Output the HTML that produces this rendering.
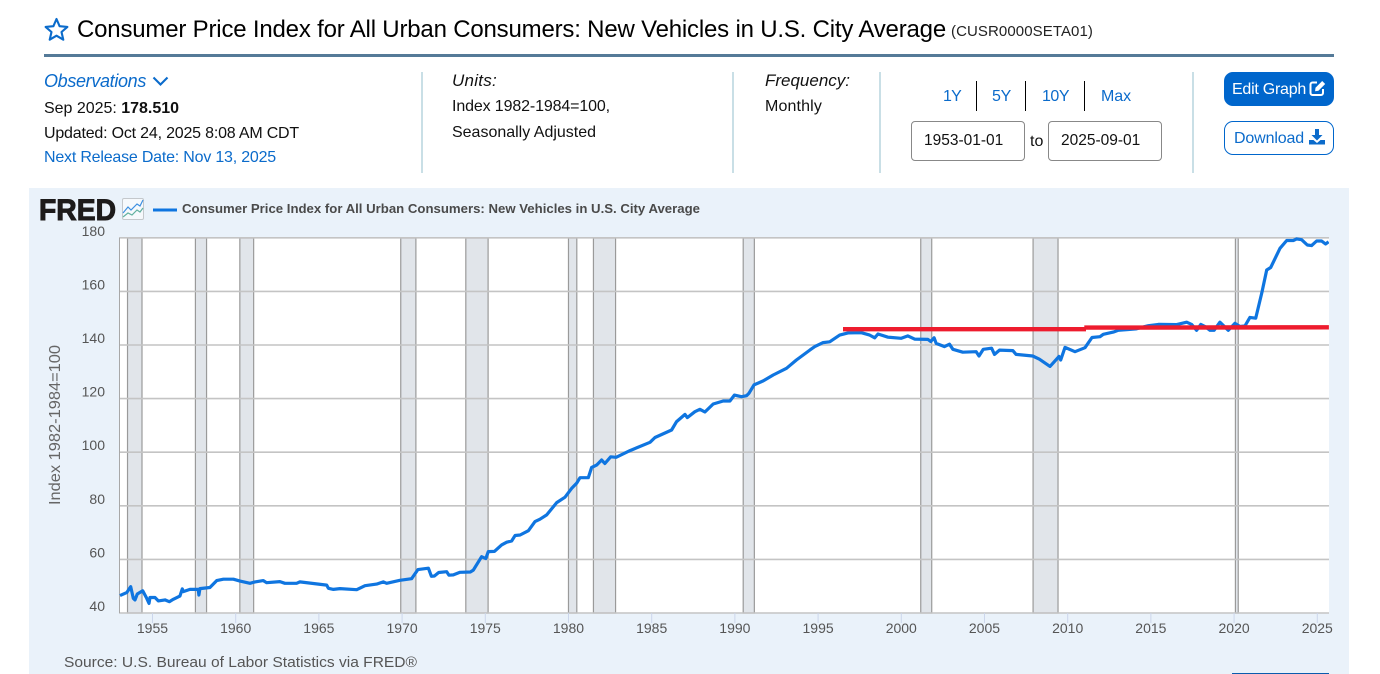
<!DOCTYPE html>
<html lang="en">
<head>
<meta charset="utf-8">
<title>Consumer Price Index for All Urban Consumers: New Vehicles in U.S. City Average</title>
<style>
html,body{margin:0;padding:0;background:#fff;width:1380px;height:674px;overflow:hidden;font-family:"Liberation Sans",Arial,sans-serif;color:#111}
.t{position:absolute;white-space:nowrap;line-height:20px;height:20px;font-size:16px}
.blue{color:#0b6bcb;text-decoration:none}
.div{position:absolute;width:2px;top:72px;height:101px;background:#c9dfe6}
.sep{position:absolute;width:1px;top:81px;height:30px;background:#000}
input{position:absolute;box-sizing:border-box;height:40px;width:114px;top:121px;border:1px solid #888;border-radius:4px;font:15.500px "Liberation Sans",Arial,sans-serif;padding:0 0 0 12px;color:#111;background:#fff;margin:0;outline:none}
.btn{position:absolute;left:1224px;width:110px;height:34px;box-sizing:border-box;border-radius:9px;border:1px solid #0066cc}
#panel{position:absolute;left:29px;top:188px;width:1320px;height:486px;background:#eaf2fa}
#chart{position:absolute;left:0;top:0;width:1380px;height:674px}
</style>
</head>
<body>

<svg style="position:absolute;left:44px;top:17px" width="25" height="25" viewBox="0 0 25 25"><polygon points="12.5,2 15.6,9.2 23.4,9.9 17.5,15 19.3,22.7 12.5,18.7 5.7,22.7 7.5,15 1.6,9.9 9.4,9.2" fill="none" stroke="#0b6bcb" stroke-width="2.1" stroke-linejoin="round"/></svg>
<span class="t" data-fit="869" style="left:77px;top:16px;font-size:24px;line-height:28px;height:28px;color:#000">Consumer Price Index for All Urban Consumers: New Vehicles in U.S. City Average</span>
<span class="t" data-fit="142" style="left:951px;top:22px;font-size:15px;color:#222">(CUSR0000SETA01)</span>
<div style="position:absolute;left:44px;top:54px;width:1290px;height:3px;background:#557a98"></div>

<span class="t blue" data-fit="102" style="left:44px;top:71px;font-size:18px;font-style:italic">Observations</span>
<svg style="position:absolute;left:151px;top:74px" width="19" height="14" viewBox="0 0 19 14"><polyline points="2.5,3.5 9.5,10.5 16.5,3.5" fill="none" stroke="#0b6bcb" stroke-width="2.1"/></svg>
<span class="t" data-fit="135" style="left:44px;top:99px">Sep 2025: <b>178.510</b></span>
<span class="t" data-fit="255" style="left:44px;top:124px">Updated: Oct 24, 2025 8:08 AM CDT</span>
<a class="t blue" data-fit="232" style="left:44px;top:148px">Next Release Date: Nov 13, 2025</a>
<div class="div" style="left:421px"></div>

<span class="t" data-fit="45" style="left:452px;top:71px;font-style:italic;font-size:17px">Units:</span>
<span class="t" data-fit="158" style="left:452px;top:97px">Index 1982-1984=100,</span>
<span class="t" data-fit="144" style="left:452px;top:123px">Seasonally Adjusted</span>
<div class="div" style="left:732px"></div>

<span class="t" data-fit="85" style="left:765px;top:71px;font-style:italic;font-size:17px">Frequency:</span>
<span class="t" data-fit="57" style="left:765px;top:97px">Monthly</span>
<div class="div" style="left:879px"></div>

<a class="t blue" data-fit="18" style="left:943px;top:87px">1Y</a>
<div class="sep" style="left:976px"></div>
<a class="t blue" data-fit="19" style="left:992px;top:87px">5Y</a>
<div class="sep" style="left:1025px"></div>
<a class="t blue" data-fit="27" style="left:1042px;top:87px">10Y</a>
<div class="sep" style="left:1084px"></div>
<a class="t blue" data-fit="30" style="left:1101px;top:87px">Max</a>

<input style="left:911px" value="1953-01-01">
<span class="t" style="left:1030px;top:132px">to</span>
<input style="left:1048px" value="2025-09-01">
<div class="div" style="left:1192px"></div>

<div class="btn" style="top:72px;background:#0066cc"></div>
<span class="t" data-fit="74" style="left:1232px;top:80px;color:#fff">Edit Graph</span>
<svg style="position:absolute;left:1309px;top:79px" width="18" height="18" viewBox="0 0 18 18"><path d="M8 3.5H3.5a2 2 0 0 0-2 2v8.5a2 2 0 0 0 2 2H12a2 2 0 0 0 2-2V10" fill="none" stroke="#fff" stroke-width="2"/><path d="M6.5 8.8 13.2 2l3 3-6.8 6.8-3.3.4z" fill="#fff"/></svg>

<div class="btn" style="top:121px;background:#fff"></div>
<span class="t blue" data-fit="70" style="left:1234px;top:129px">Download</span>
<svg style="position:absolute;left:1308px;top:128px" width="18" height="18" viewBox="0 0 18 18"><path d="M7 1h4v6h3.5L9 12.5 3.500 7H7z" fill="#0b6bcb"/><path d="M1 12h4.500L9 15l3.500-3H17v4.500H1z" fill="#0b6bcb"/></svg>

<div id="panel"></div>

<svg id="chart" viewBox="0 0 1380 674" xmlns="http://www.w3.org/2000/svg" font-family="'Liberation Sans',Arial,sans-serif">
  <text x="39" y="220" font-size="30" font-weight="700" fill="#1d1b1b" stroke="#1d1b1b" stroke-width="1" textLength="77" lengthAdjust="spacingAndGlyphs">FRED</text>
  <g>
    <rect x="122.500" y="198.500" width="21" height="21" rx="1.500" fill="#f6f9fc" stroke="#c4c8cc"/>
    <polyline points="123,213 128,207 131,210 137,204 140,206 143,200" fill="none" stroke="#3d8fe0" stroke-width="1.200"/>
    <polyline points="123,217 128,213 132,215 137,210 140,212 143,208" fill="none" stroke="#62b0a0" stroke-width="1.200"/>
  </g>
  <line x1="153" y1="210" x2="177" y2="210" stroke="#0f75e0" stroke-width="3"/>
  <text x="182" y="213" font-size="12.500" font-weight="700" fill="#4a4a4a" textLength="518" lengthAdjust="spacingAndGlyphs">Consumer Price Index for All Urban Consumers: New Vehicles in U.S. City Average</text>
  <rect x="119" y="238" width="1210" height="375" fill="#fff"/>
  <g id="bands"></g>
  <g id="grid"></g>
  <g id="xaxis"></g>
  <g id="yaxis"></g>
  <text transform="translate(60,425) rotate(-90)" text-anchor="middle" font-size="15.500" fill="#666" textLength="160" lengthAdjust="spacingAndGlyphs">Index 1982-1984=100</text>
  <clipPath id="plotclip"><rect x="119" y="236" width="1210" height="378"/></clipPath>
  <g id="marks" clip-path="url(#plotclip)"></g>
  <text x="64" y="667" font-size="15" fill="#555" textLength="353" lengthAdjust="spacingAndGlyphs">Source: U.S. Bureau of Labor Statistics via FRED®</text>
  <rect x="1232" y="673" width="97" height="1" fill="#0b5cad"/>
</svg>

<script>
var years = [1953.05,1953.45,1953.69,1953.85,1953.95,1954.09,1954.41,1954.65,1954.79,1954.85,1955.15,1955.35,1955.75,1956.01,1956.25,1956.65,1956.79,1956.85,1957.25,1957.75,1957.79,1957.85,1958.45,1958.86,1959.26,1959.86,1960.26,1960.86,1961.16,1961.66,1961.86,1962.66,1962.96,1963.66,1963.86,1965.47,1965.57,1965.87,1966.27,1967.27,1967.77,1968.47,1968.87,1969.07,1969.87,1970.57,1970.95,1971.58,1971.76,1971.94,1972.2,1972.68,1972.82,1973.08,1973.48,1974.1,1974.28,1974.78,1975.03,1975.18,1975.55,1975.98,1976.29,1976.59,1976.79,1977.09,1977.59,1977.99,1978.29,1978.69,1979.29,1979.79,1980.19,1980.49,1980.69,1981.19,1981.39,1981.69,1981.99,1982.19,1982.54,1982.86,1983.7,1984.9,1985.2,1986.2,1986.5,1987.0,1987.14,1987.6,1987.9,1988.2,1988.7,1989.3,1989.7,1989.97,1990.4,1990.7,1990.85,1991.15,1991.7,1992.3,1993.1,1993.7,1994.5,1994.8,1995.3,1995.7,1996.3,1996.8,1997.6,1998.1,1998.4,1998.6,1999.2,2000.0,2000.4,2000.8,2001.6,2001.77,2001.97,2002.1,2002.6,2002.9,2003.1,2003.7,2004.5,2004.67,2004.93,2005.43,2005.6,2005.9,2006.7,2006.9,2007.9,2008.3,2008.94,2009.48,2009.58,2009.84,2010.44,2011.04,2011.46,2011.94,2012.14,2012.74,2013.04,2013.54,2014.1,2014.85,2015.45,2016.55,2017.15,2017.45,2017.75,2018.0,2018.25,2018.55,2018.8,2019.15,2019.65,2020.05,2020.35,2020.65,2020.95,2021.3,2021.66,2021.96,2022.2,2022.76,2023.16,2023.56,2023.76,2024.06,2024.4,2024.66,2024.96,2025.26,2025.5,2025.68];
var values = [46.5,47.6,49.8,45.5,44.9,47.1,48.3,45.5,43.6,45.8,45.8,44.5,44.9,44.2,45.1,46.3,49.0,48.0,48.8,48.8,46.7,49.1,49.5,52.1,52.6,52.6,51.9,51.1,51.6,52.1,51.3,51.7,51.1,51.1,51.6,50.4,49.2,48.8,49.1,48.7,50.2,50.8,51.6,51.1,52.2,52.8,56.2,56.7,53.7,53.8,55.1,55.4,54.1,54.2,55.2,55.3,56.0,61.0,60.3,62.9,63.0,65.4,66.4,66.9,68.9,69.1,70.7,74.1,75.0,76.6,81.2,83.2,86.5,88.4,90.5,90.5,94.3,95.2,97.1,95.8,98.3,98.1,100.6,103.7,105.5,108.3,111.4,114.1,112.9,115.1,116.0,115.0,118.0,119.1,119.1,121.3,120.7,121.1,122.0,125.1,126.6,128.8,131.3,134.4,138.1,139.4,140.9,141.2,143.7,144.5,144.6,143.7,142.7,144.1,142.9,142.5,143.4,142.2,142.1,141.3,142.7,140.6,139.4,140.3,138.4,137.3,137.5,135.9,138.4,138.8,136.5,138.1,137.9,136.5,135.9,134.7,132.0,135.7,134.4,139.1,137.5,139.0,142.8,143.1,144.0,144.8,145.5,145.7,146.0,147.2,147.7,147.6,148.5,147.7,145.5,147.7,146.9,145.5,145.5,148.5,145.5,148.1,146.9,147.1,150.3,150.0,159.3,168.0,168.9,176.1,179.0,179.0,179.6,179.3,177.3,177.1,178.8,178.8,177.7,178.5];
var recessionStarts = [1953.5,1957.58,1960.25,1969.92,1973.83,1980.0,1981.5,1990.5,2001.17,2007.92,2020.08];
var recessionEnds = [1954.37,1958.25,1961.08,1970.83,1975.17,1980.5,1982.83,1991.17,2001.83,2009.42,2020.25];
var yTickLabels = [40,60,80,100,120,140,160,180];
var xTickLabels = [1955,1960,1965,1970,1975,1980,1985,1990,1995,2000,2005,2010,2015,2020,2025];
var trendYearsA = [1996.5,2011.1];
var trendValuesA = [145.9,145.9];
var trendYearsB = [2011.0,2025.7];
var trendValuesB = [146.5,146.6];

var X0 = 119.2, PXPERYEAR = 16.64, Y0 = 613, PXPERUNIT = 2.68;
function xScale(year){ return X0 + (year - 1953) * PXPERYEAR; }
function yScale(v){ return Y0 - (v - 40) * PXPERUNIT; }
var NS = 'http://www.w3.org/2000/svg';
function mk(tag, parent){ var e = document.createElementNS(NS, tag); parent.appendChild(e); return e; }
function pts(xs, ys){ return xs.map(function(x, i){ return xScale(x).toFixed(1) + ',' + yScale(ys[i]).toFixed(1); }).join(' '); }

var bandsG = document.getElementById('bands');
recessionStarts.forEach(function(s, i){
  var r = mk('rect', bandsG);
  
  
  r.setAttribute('x', xScale(s));
  r.setAttribute('y', 238);
  r.setAttribute('width', xScale(recessionEnds[i]) - xScale(s));
  r.setAttribute('height', 375);
  r.setAttribute('fill', '#e1e5ea');
  r.setAttribute('stroke', '#9a9a9a');
  r.setAttribute('stroke-width', '1.2');
});

var gridG = document.getElementById('grid');
var yG = document.getElementById('yaxis');
yTickLabels.forEach(function(v){
  var l = mk('line', gridG);
  
  
  l.setAttribute('x1', 119);
  l.setAttribute('x2', 1329);
  l.setAttribute('y1', yScale(v));
  l.setAttribute('y2', yScale(v));
  l.setAttribute('stroke', '#c4c4c4');
  l.setAttribute('stroke-width', '1.6');
  var t = mk('text', yG);
  
  
  t.setAttribute('x', 105);
  t.setAttribute('y', yScale(v) - 2);
  t.setAttribute('text-anchor', 'end');
  t.setAttribute('font-size', '14');
  t.setAttribute('fill', '#555');
  t.textContent = v;
});
var leftAxis = mk('line', gridG);


leftAxis.setAttribute('x1', 119.5);
leftAxis.setAttribute('x2', 119.5);
leftAxis.setAttribute('y1', 238);
leftAxis.setAttribute('y2', 613);
leftAxis.setAttribute('stroke', '#a8a8a8');
leftAxis.setAttribute('stroke-width', '1');

var xG = document.getElementById('xaxis');
xTickLabels.forEach(function(y){
  var k = mk('line', xG);
  
  
  k.setAttribute('x1', xScale(y));
  k.setAttribute('x2', xScale(y));
  k.setAttribute('y1', 613);
  k.setAttribute('y2', 623);
  k.setAttribute('stroke', '#ccd6eb');
  k.setAttribute('stroke-width', '1');
  var t = mk('text', xG);
  
  
  t.setAttribute('x', xScale(y));
  t.setAttribute('y', 633);
  t.setAttribute('text-anchor', 'middle');
  t.setAttribute('font-size', '14');
  t.setAttribute('fill', '#555');
  t.textContent = y;
});

var marks = document.getElementById('marks');
var series = mk('polyline', marks);


series.setAttribute('points', pts(years, values));
series.setAttribute('fill', 'none');
series.setAttribute('stroke', '#0f75e0');
series.setAttribute('stroke-width', '3.2');
series.setAttribute('stroke-linejoin', 'round');
var trendA = mk('polyline', marks);


trendA.setAttribute('points', pts(trendYearsA, trendValuesA));
trendA.setAttribute('fill', 'none');
trendA.setAttribute('stroke', '#ee1c2e');
trendA.setAttribute('stroke-width', '4.4');
var trendB = mk('polyline', marks);


trendB.setAttribute('points', pts(trendYearsB, trendValuesB));
trendB.setAttribute('fill', 'none');
trendB.setAttribute('stroke', '#ee1c2e');
trendB.setAttribute('stroke-width', '4.4');

document.querySelectorAll('[data-fit]').forEach(function(el){
  var target = parseFloat(el.getAttribute('data-fit'));
  var w = el.getBoundingClientRect().width;
  var n = el.textContent.length;
  el.style.letterSpacing = ((target - w) / n) + 'px';
});
</script>
</body>
</html>
